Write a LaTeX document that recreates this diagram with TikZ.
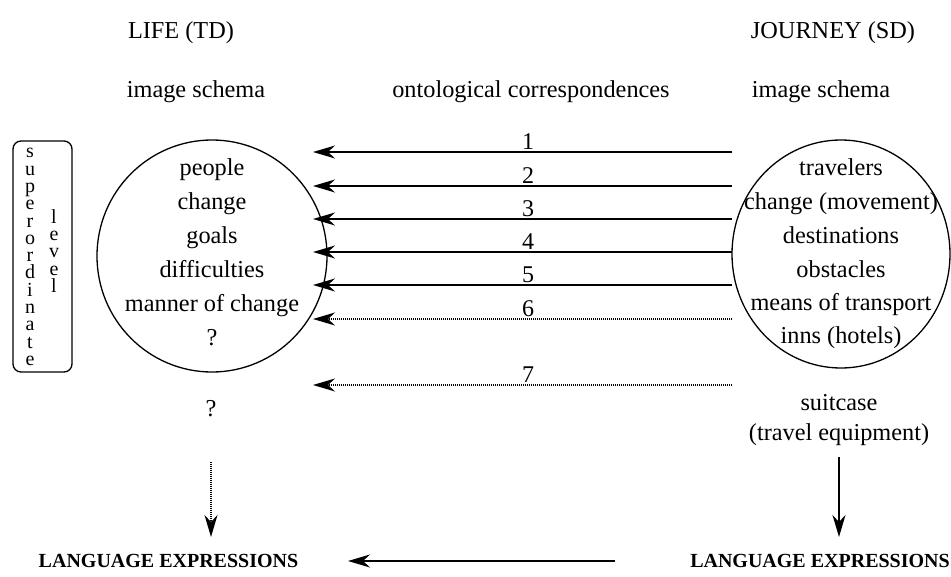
\documentclass[tikz,border=0pt]{standalone}
\usepackage{fontspec}
\setmainfont{Liberation Serif}
\usetikzlibrary{arrows.meta,shapes.geometric}
\begin{document}
\begin{tikzpicture}[x=1pt,y=-1pt,
  txt/.style={font=\fontsize{24.3}{30}\selectfont, inner sep=0pt, anchor=base},
  bigtxt/.style={font=\fontsize{20}{24}\selectfont\bfseries, inner sep=0pt, anchor=base},
  numlbl/.style={font=\fontsize{24}{26}\selectfont, inner sep=0pt, anchor=base},
  schema/.style={draw, line width=1.3pt, ellipse, inner sep=0pt},
  tip/.style={-{Stealth[length=22pt,width=13pt,inset=7pt]}},
  corr/.style={tip, line width=1.6pt},
  corrdot/.style={tip, line width=1.3pt, dash pattern=on 1.2pt off 0.8pt},
  vtext/.style={font=\fontsize{20}{17.3}\selectfont, inner sep=0pt, align=center}
]
\useasboundingbox (0,0) rectangle (951,576);

% headings
\node[txt] (life) at (181,38) {LIFE (TD)};
\node[txt] (journey) at (833,38) {JOURNEY (SD)};
\node[txt] (isl) at (196,97) {image schema};
\node[txt] (onto) at (531,97) {ontological correspondences};
\node[txt] (isr) at (821,97) {image schema};

% circles
\node[schema, minimum width=230pt, minimum height=232pt] (lc) at (212,256) {};
\node[schema, minimum width=218pt, minimum height=228pt] (rc) at (841,254) {};

% left circle contents
\node[txt] (l1) at (212,175) {people};
\node[txt] (l2) at (212,209) {change};
\node[txt] (l3) at (212,243) {goals};
\node[txt] (l4) at (212,277) {difficulties};
\node[txt] (l5) at (212,311) {manner of change};
\node[txt] (l6) at (212,345) {?};

% right circle contents
\node[txt] (r1) at (841,175) {travelers};
\node[txt] (r2) at (841,209) {change (movement)};
\node[txt] (r3) at (841,243) {destinations};
\node[txt] (r4) at (841,277) {obstacles};
\node[txt] (r5) at (841,310) {means of transport};
\node[txt] (r6) at (841,343) {inns (hotels)};

% superordinate level box
\node[draw, line width=1.3pt, rounded corners=8pt, minimum width=59pt, minimum height=231pt, inner sep=0pt] (sbox) at (42.5,256.5) {};
\node[vtext] (sup) at (30,257) {s\\u\\p\\e\\r\\o\\r\\d\\i\\n\\a\\t\\e};
\node[vtext] (lev) at (54,251) {l\\e\\v\\e\\l};

% correspondence arrows
\foreach \i/\y/\s in {1/152/corr,2/186/corr,3/219/corr,4/252/corr,5/285/corr,6/319/corrdot,7/385/corrdot}{
  \coordinate (s\i) at (732,\y);
  \coordinate (t\i) at (313,\y);
  \draw[\s] (s\i) -- (t\i);
  \node[numlbl] (n\i) at (528,\y-3) {\i};
}

% below circles
\node[txt] (lq) at (211,416) {?};
\node[txt] (suit) at (839,410) {suitcase};
\node[txt] (equip) at (839,440) {(travel equipment)};

% language expressions
\node[bigtxt] (lel) at (168.5,567) {LANGUAGE EXPRESSIONS};
\node[bigtxt] (ler) at (820,567) {LANGUAGE EXPRESSIONS};

\coordinate (dl1) at (211,462);
\coordinate (dl2) at (211,537);
\draw[corrdot] (dl1) -- (dl2);
\coordinate (dr1) at (839,457);
\coordinate (dr2) at (839,537);
\draw[corr] (dr1) -- (dr2);
\coordinate (b1) at (615,561);
\coordinate (b2) at (348,561);
\draw[corr] (b1) -- (b2);
\end{tikzpicture}
\end{document}
